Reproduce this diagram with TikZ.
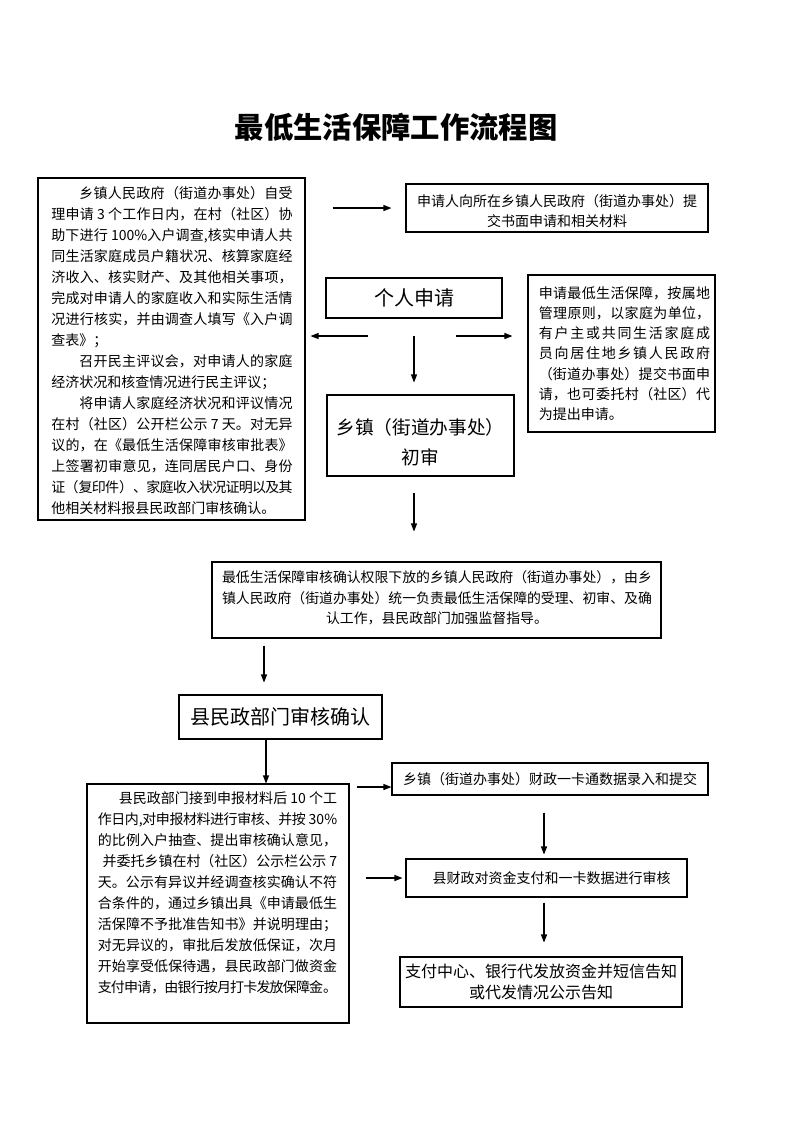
\documentclass[tikz,border=0pt]{standalone}
\usepackage{fontspec}
\newfontfamily\cjk{Noto Sans CJK SC}
\XeTeXlinebreaklocale "zh"
\XeTeXlinebreakskip=0pt plus 3pt minus 1pt
\usetikzlibrary{arrows.meta}
\newcommand{\JL}[2]{\parbox[t]{#1}{\XeTeXlinebreakpenalty=10000\relax\parfillskip=0pt\relax\tolerance=10000\relax\leavevmode #2}}
\tikzset{
  box/.style={draw, line width=0.8pt, inner sep=0pt},
  body/.style={font={\cjk\fontsize{10.5pt}{15.75pt}\selectfont}, inner sep=0pt, align=left},
  arr/.style={-{Triangle[length=6pt,width=4.5pt]}, line width=0.8pt},
}
\begin{document}
\begin{tikzpicture}[x=0.75pt,y=-0.75pt]
\path[use as bounding box, fill=white] (0,0) rectangle (793,1122);

% title
\node[font={\cjk\bfseries\fontsize{22pt}{26pt}\selectfont}] (title) at (396,127) {最低生活保障工作流程图};

% boxes
\node[box, minimum width=200.25pt, minimum height=256.5pt] (L) at (171.5,349) {};
\node[box, minimum width=226.5pt, minimum height=36pt] (TR) at (557,208) {};
\node[box, minimum width=132pt, minimum height=30pt, font={\cjk\fontsize{15pt}{18pt}\selectfont}] (P) at (414,298) {个人申请};
\node[box, minimum width=140.25pt, minimum height=117.75pt] (RB) at (621.5,353.5) {};
\node[box, minimum width=140.25pt, minimum height=60.75pt] (CS) at (420.5,435.5) {};
\node[box, minimum width=336.75pt, minimum height=57pt] (M) at (436.5,600) {};
\node[box, minimum width=152.25pt, minimum height=33pt, font={\cjk\fontsize{15pt}{18pt}\selectfont}] (C) at (280.5,717) {县民政部门审核确认};
\node[box, minimum width=196.5pt, minimum height=179.25pt] (BL) at (218,903.5) {};
\node[box, minimum width=237pt, minimum height=24pt, font={\cjk\fontsize{10.5pt}{13pt}\selectfont}] (F1) at (550,779) {乡镇（街道办事处）财政一卡通数据录入和提交};
\node[box, minimum width=210.75pt, minimum height=28.5pt] (F2) at (546.5,878) {};
\node[box, minimum width=211.5pt, minimum height=37.5pt, align=center, font={\cjk\fontsize{12pt}{15.75pt}\selectfont}] (F3) at (541,982) {支付中心、银行代发放资金并短信告知\\或代发情况公示告知};

% texts inside boxes
\node[body] (Lt) at (172,350.5) {%
\JL{181pt}{\hspace*{2em}乡镇人民政府（街道办事处）自受}\\
\JL{181pt}{理申请~3~个工作日内，在村（社区）协}\\
\JL{181pt}{助下进行~100\%入户调查,核实申请人共}\\
\JL{181pt}{同生活家庭成员户籍状况、核算家庭经}\\
\JL{181pt}{济收入、核实财产、及其他相关事项，}\\
\JL{181pt}{完成对申请人的家庭收入和实际生活情}\\
\JL{181pt}{况进行核实，并由调查人填写《入户调}\\
查表》；\\
\JL{181pt}{\hspace*{2em}召开民主评议会，对申请人的家庭}\\
经济状况和核查情况进行民主评议；\\
\JL{181pt}{\hspace*{2em}将申请人家庭经济状况和评议情况}\\
\JL{181pt}{在村（社区）公开栏公示~7~天。对无异}\\
\JL{181pt}{议的，在《最低生活保障审核审批表》}\\
\JL{181pt}{上签署初审意见，连同居民户口、身份}\\
\JL{181pt}{证（复印件）、家庭收入状况证明以及其}\\
他相关材料报县民政部门审核确认。};

\node[body, align=center, font={\cjk\fontsize{10.5pt}{15pt}\selectfont}] (TRt) at (557,211) {申请人向所在乡镇人民政府（街道办事处）提\\交书面申请和相关材料};

\node[body, font={\cjk\fontsize{10.5pt}{15.2pt}\selectfont}] (RBt) at (624.5,353.5) {%
\JL{128.5pt}{申请最低生活保障，按属地}\\
\JL{128.5pt}{管理原则，以家庭为单位，}\\
\JL{128.5pt}{有户主或共同生活家庭成}\\
\JL{128.5pt}{员向居住地乡镇人民政府}\\
\JL{128.5pt}{（街道办事处）提交书面申}\\
\JL{128.5pt}{请，也可委托村（社区）代}\\
为提出申请。};

\node[align=center, inner sep=0pt, font={\cjk\fontsize{14pt}{22.5pt}\selectfont}] (CSt) at (420.5,442) {乡镇（街道办事处）\\初审};

\node[body, align=center, font={\cjk\fontsize{10.4pt}{15.4pt}\selectfont}] (Mt) at (437,598) {最低生活保障审核确认权限下放的乡镇人民政府（街道办事处），由乡\\镇人民政府（街道办事处）统一负责最低生活保障的受理、初审、及确\\认工作，县民政部门加强监督指导。};

\node[inner sep=0pt, font={\cjk\fontsize{10.5pt}{13pt}\selectfont}] (F2t) at (551.5,878) {县财政对资金支付和一卡数据进行审核};

\node[body, font={\cjk\fontsize{10.5pt}{15.8pt}\selectfont}] (BLt) at (217.5,893) {%
\JL{179.5pt}{\hspace*{1.5em}县民政部门接到申报材料后~10~个工}\\
\JL{179.5pt}{作日内,对申报材料进行审核、并按~30\%}\\
\JL{179.5pt}{的比例入户抽查、提出审核确认意见，}\\
\JL{179.5pt}{\hspace*{0.35em}并委托乡镇在村（社区）公示栏公示~7}\\
\JL{179.5pt}{天。公示有异议并经调查核实确认不符}\\
\JL{179.5pt}{合条件的，通过乡镇出具《申请最低生}\\
\JL{179.5pt}{活保障不予批准告知书》并说明理由；}\\
\JL{179.5pt}{对无异议的，审批后发放低保证，次月}\\
\JL{179.5pt}{开始享受低保待遇，县民政部门做资金}\\
\JL{179.5pt}{支付申请，由银行按月打卡发放保障金。}};

% helper coordinates
\coordinate (hub) at (414,336);
\coordinate (xa) at (264,0);
\coordinate (xb) at (266,0);
\coordinate (xf) at (544,0);
\coordinate (yf1) at (0,787);

% connectors
\draw[arr, shorten <=20.25pt, shorten >=10.5pt] (L.east |- TR.west) -- (TR.west);
\draw[arr, shorten <=34.5pt, shorten >=3.75pt] (hub) -- (hub -| L.east);
\draw[arr, shorten <=31.5pt, shorten >=11.25pt] (hub) -- (hub -| RB.west);
\draw[arr, shorten >=9pt] (hub) -- (hub |- CS.north);
\draw[arr, shorten <=12pt, shorten >=22.5pt] (CS.south -| hub) -- (M.north -| hub);
\draw[arr, shorten <=5.25pt, shorten >=9pt] (M.south -| xa) -- (C.north -| xa);
\draw[arr] (C.south -| xb) -- (BL.north -| xb);
\draw[arr, shorten <=5.25pt] (BL.east |- yf1) -- (F1.west |- yf1);
\draw[arr, shorten <=12.75pt, shorten >=3pt] (F1.south -| xf) -- (F2.north -| xf);
\draw[arr, shorten <=12pt, shorten >=2.25pt] (BL.east |- F2.west) -- (F2.west);
\draw[arr, shorten <=3.75pt, shorten >=10.5pt] (F2.south -| xf) -- (F3.north -| xf);
\end{tikzpicture}
\end{document}
